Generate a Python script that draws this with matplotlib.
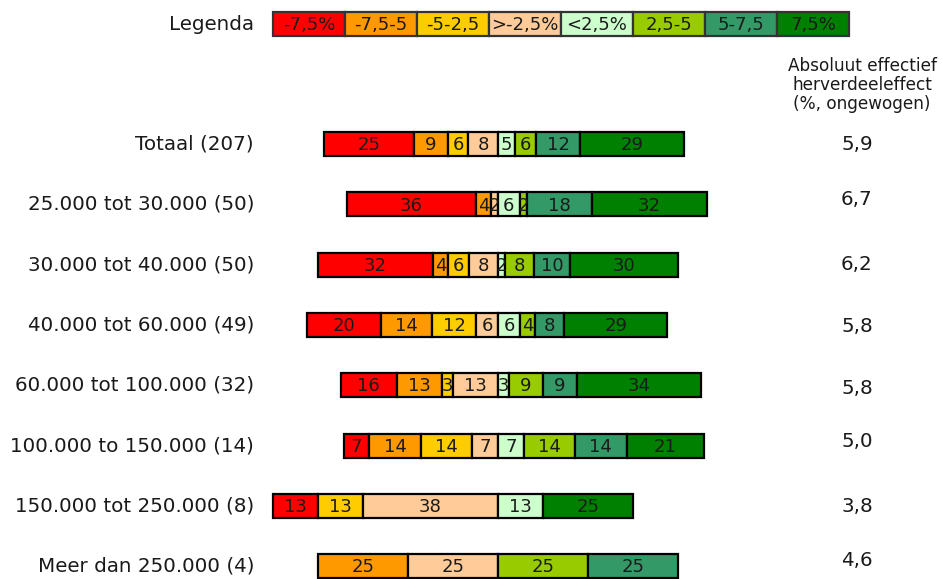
import numpy as np
import matplotlib
matplotlib.use("Agg")
import matplotlib.pyplot as plt

categories = ["Totaal (207)", "25.000 tot 30.000 (50)", "30.000 tot 40.000 (50)",
              "40.000 tot 60.000 (49)", "60.000 tot 100.000 (32)", "100.000 to 150.000 (14)",
              "150.000 tot 250.000 (8)", "Meer dan 250.000 (4)"]
legend_labels = ["-7,5%", "-7,5-5", "-5-2,5", ">-2,5%", "<2,5%", "2,5-5", "5-7,5", "7,5%"]
colors = ["#FF0000", "#FF9900", "#FFCC00", "#FFCC99", "#CCFFCC", "#99CC00", "#339966", "#008000"]

# percentage of households per class (columns follow legend order)
v_totaal = [25.1, 9.2, 5.8, 8.2, 4.8, 5.8, 12.1, 29.0]
v_25 = [36, 4, 0, 2, 6, 2, 18, 32]
v_30 = [32, 4, 6, 8, 2, 8, 10, 30]
v_40 = [20.4, 14.3, 12.2, 6.1, 6.1, 4.1, 8.2, 28.6]
v_60 = [15.6, 12.5, 3.1, 12.5, 3.1, 9.4, 9.4, 34.4]
v_100 = [7.1, 14.3, 14.3, 7.1, 7.1, 14.3, 14.3, 21.4]
v_150 = [12.5, 0, 12.5, 37.5, 12.5, 0, 0, 25.0]
v_250 = [0, 25, 0, 25, 0, 25, 25, 0]
values = [v_totaal, v_25, v_30, v_40, v_60, v_100, v_150, v_250]

effect = ["5,9", "6,7", "6,2", "5,8", "5,8", "5,0", "3,8", "4,6"]
header = "Absoluut effectief\nherverdeeleffect\n(%, ongewogen)"

# layout: vertical pixel shift of the right-hand values relative to their row
effect_shift_px = [1, -5, 0, 2, 3, -4, 1, -6]

W, H = 943, 579
fig = plt.figure(figsize=(W / 100, H / 100), dpi=100)
ax = fig.add_axes([0, 0, 1, 1])
px_per = 3.6
x0px = 498
row0, rowstep = 144, 60.3
ax.set_xlim((0 - x0px) / px_per, (W - x0px) / px_per)
ax.set_ylim((H - row0) / rowstep, (0 - row0) / rowstep)
ax.axis("off")

FS = 14.3
TXT = "#1a1a1a"
bh = 24 / rowstep

for i, (cat, vals) in enumerate(zip(categories, values)):
    vals = np.array(vals, dtype=float)
    neg = vals[:4].sum()
    left = -neg
    for j, v in enumerate(vals):
        if v <= 0:
            continue
        bars = ax.barh(i, v, left=left, height=bh, color=colors[j],
                       edgecolor="black", linewidth=1.6)
        patch = bars[0]
        t = ax.text(left + v / 2, i + 0.02, f"{int(v + 0.5):d}", ha="center", va="center",
                    fontsize=13, color=TXT)
        t.set_clip_path(patch)
        left += v
    ax.text(-(x0px - 254) / px_per, i, cat, ha="right", va="center", fontsize=FS, color=TXT)
    ax.text((857 - x0px) / px_per, i + effect_shift_px[i] / rowstep, effect[i],
            ha="center", va="center", fontsize=FS, color=TXT)

# legend row
ly = (24 - row0) / rowstep
lw = 72 / px_per
lx = (273 - x0px) / px_per
for j, (lab, c) in enumerate(zip(legend_labels, colors)):
    ax.barh(ly, lw, left=lx + j * lw, height=24 / rowstep, color=c,
            edgecolor="#333333", linewidth=1.6)
    ax.text(lx + j * lw + lw / 2, ly + 0.02, lab, ha="center", va="center",
            fontsize=13, color=TXT)
ax.text(-(x0px - 254) / px_per, ly, "Legenda", ha="right", va="center", fontsize=FS, color=TXT)

ax.text((862 - x0px) / px_per, (85 - row0) / rowstep, header, ha="center", va="center",
        fontsize=12.2, color=TXT, linespacing=1.05)

fig.savefig("out.png", dpi=100)
